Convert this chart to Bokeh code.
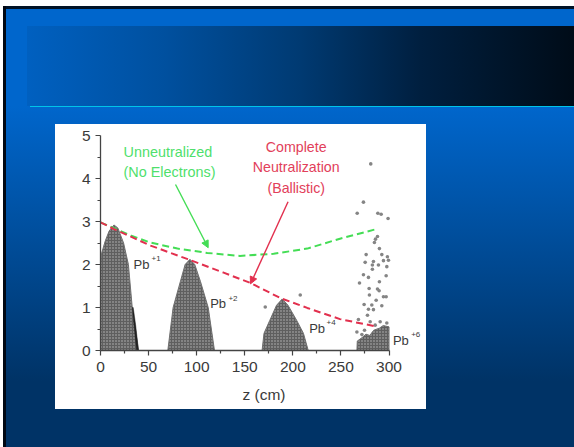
from bokeh.plotting import figure
from bokeh.models import Label, Arrow, NormalHead, FixedTicker
from bokeh.embed import file_html
from bokeh.resources import INLINE

# ---- data ----
title_lines = ["Plasma Electrons Neutralize Ion", "Beam Space Charge"]

green_z = [0, 13.5, 32, 52, 80, 111, 145, 180, 215, 249, 288]
green_r = [2.98, 2.85, 2.67, 2.51, 2.37, 2.27, 2.20, 2.25, 2.37, 2.60, 2.83]
red_z = [0, 13.5, 52, 90, 128, 156, 187, 215, 249, 284]
red_r = [2.98, 2.83, 2.44, 2.13, 1.81, 1.57, 1.22, 0.99, 0.73, 0.57]

pb1_z = [0, 0, 1, 5, 9, 14, 18, 24, 29, 33, 39.5]
pb1_r = [0, 2.0, 2.25, 2.55, 2.78, 2.92, 2.85, 2.5, 2.0, 1.0, 0]
pb1_edge_z = [33, 34, 36.5, 39.5, 37.5]
pb1_edge_r = [1.0, 1.0, 0.6, 0, 0]
pb2_z = [70, 75.5, 83, 88, 93, 98, 104, 112, 118.5]
pb2_r = [0, 1.0, 1.6, 2.0, 2.12, 2.0, 1.6, 1.0, 0]
pb4_z = [168, 170, 176, 183, 189, 195, 204, 211, 216]
pb4_r = [0, 0.4, 0.7, 1.05, 1.2, 1.05, 0.7, 0.4, 0]
pb6_z = [266.6, 267, 272, 276, 280, 284, 290, 294, 300, 300]
pb6_r = [0, 0.22, 0.30, 0.38, 0.35, 0.47, 0.52, 0.58, 0.55, 0]

stray_z = [281, 273.4, 266.9, 288.4, 291.8, 299, 288, 285.9, 284.8, 290, 276.2, 292.5, 298.3, 299.4,
           275.2, 283.8, 282.7, 289, 294.2, 297.7, 282.7, 273.4, 278.6, 297, 269.3, 290, 279.3, 288,
           289.7, 279.6, 294.2, 297, 286.6, 274.1, 282.1, 278.6, 283.8, 292.5, 277.6, 268.2, 280.4,
           290.8, 297.7, 285.6, 266.6, 271.8, 274.5, 207.7, 171.3]
stray_r = [4.34, 3.45, 3.19, 3.19, 3.17, 3.07, 2.65, 2.59, 2.51, 2.37, 2.23, 2.23, 2.18, 2.10,
           2.05, 2.07, 1.99, 1.99, 2.09, 1.95, 1.89, 1.76, 1.70, 1.74, 1.57, 1.60, 1.44, 1.43,
           1.39, 1.29, 1.25, 1.25, 1.17, 1.07, 1.06, 0.96, 0.95, 1.04, 0.82, 0.72, 0.67,
           0.67, 0.64, 0.59, 0.43, 0.37, 0.47, 1.29, 1.01]

x_ticks = [0, 50, 100, 150, 200, 250, 300]
y_ticks = [0, 1, 2, 3, 4, 5]
green_text = ["Unneutralized", "(No Electrons)"]
green_text_r = [4.61, 4.14]
green_text_z = 23.9
red_text = ["Complete", "Neutralization", "(Ballistic)"]
red_text_r = [4.73, 4.26, 3.77]
red_text_z = 203.5
ion_base = ["Pb", "Pb", "Pb", "Pb"]
ion_sup = ["+1", "+2", "+4", "+6"]
ion_z = [34.3, 114, 217, 304]
ion_r = [1.99, 1.10, 0.52, 0.24]
ion_sup_z = [53, 133, 235, 323]
ion_sup_r = [2.13, 1.22, 0.66, 0.38]

# ---- slide ----
WIDTH, HEIGHT = 571, 441
def layer(col, x, y, w, h):
    return f"linear-gradient({col},{col}) {x}px {y}px / {w}px {h}px no-repeat"

slide_bg = ",".join([
    layer("#ffffff", 52, 118, 371, 285),
    layer("#00c4e8", 27, 100, 544, 1),
    "linear-gradient(90deg,#0060c0 0%,#00509f 25%,#003a72 50%,#001f3f 72%,#000c18 100%) 24px 20px / 547px 80px no-repeat",
    layer("#000814", 0, 0, 3, 441),
    layer("#001226", 0, 0, 571, 3),
    "linear-gradient(180deg,#0066cc 0px,#0066cc 100px,#003366 375px,#003366 441px)",
])

p = figure(width=WIDTH, height=HEIGHT, x_range=(0, 340), y_range=(0, 5),
           output_backend="svg", toolbar_location=None,
           min_border_left=97, min_border_right=147, min_border_top=129, min_border_bottom=97,
           border_fill_color=None, background_fill_color=None, outline_line_color=None,
           styles={"position": "absolute", "left": "3px", "top": "6px", "background": slide_bg})
p.grid.visible = False

for ax, ticks in ((p.xaxis[0], x_ticks), (p.yaxis[0], y_ticks)):
    ax.ticker = FixedTicker(ticks=ticks, minor_ticks=[t + (ticks[1] - ticks[0]) / 2 for t in ticks[:-1]])
    ax.axis_line_color = "#444444"
    ax.axis_line_width = 1.3
    ax.major_tick_line_color = "#444444"
    ax.minor_tick_line_color = "#444444"
    ax.major_tick_line_width = 1.2
    ax.minor_tick_line_width = 1.2
    ax.major_tick_in = 0
    ax.major_tick_out = 5
    ax.minor_tick_in = 0
    ax.minor_tick_out = 3
    ax.major_label_text_font = "Liberation Sans"
    ax.major_label_text_font_size = "15.5px"
    ax.major_label_text_color = "#3a3a3a"
    ax.major_label_standoff = 5
p.xaxis[0].bounds = (0, 300)
p.xaxis[0].major_label_standoff = 6

p.xaxis[0].axis_label = "z (cm)"
p.xaxis[0].axis_label_text_font = "Liberation Sans"
p.xaxis[0].axis_label_text_font_style = "normal"
p.xaxis[0].axis_label_text_font_size = "15.5px"
p.xaxis[0].axis_label_text_color = "#3a3a3a"
p.xaxis[0].axis_label_standoff = 11

# bunches: envelopes with a stippled fill
for z, r in ((pb1_z, pb1_r), (pb2_z, pb2_r), (pb4_z, pb4_r), (pb6_z, pb6_r)):
    p.patch(z, r, fill_color="#5f5f5f", line_color="#707070", line_width=1,
            hatch_pattern="dot", hatch_color="#e4e4e4", hatch_alpha=0.7, hatch_scale=3, hatch_weight=1)
p.patch(pb1_edge_z, pb1_edge_r, fill_color="#222222", line_color="#222222", line_width=0.5)
p.scatter(stray_z, stray_r, size=3.6, fill_color="#858585", line_color=None)

p.line(green_z, green_r, line_color="#44dd55", line_width=2, line_dash="7 4")
p.line(red_z, red_r, line_color="#e2304e", line_width=2, line_dash="7 4")

p.add_layout(Arrow(end=NormalHead(size=7, fill_color="#44dd55", line_color="#44dd55"),
                   x_start=78, y_start=3.86, x_end=112, y_end=2.39,
                   line_color="#44dd55", line_width=1.4))
p.add_layout(Arrow(end=NormalHead(size=7, fill_color="#e2304e", line_color="#e2304e"),
                   x_start=195, y_start=3.46, x_end=156, y_end=1.55,
                   line_color="#e2304e", line_width=1.4))

def lab(x, y, text, size, color, font="Liberation Sans", align="left", **kw):
    p.add_layout(Label(x=x, y=y, text=text, text_font=font, text_font_size=f"{size}px",
                       text_color=color, text_align=align, text_baseline=kw.pop("baseline", "middle"),
                       level="overlay", **kw))

for t, r in zip(green_text, green_text_r):
    lab(green_text_z, r, t, 14.4, "#4fdf6c")
for t, r in zip(red_text, red_text_r):
    lab(red_text_z, r, t, 14.2, "#e2405a", align="center")
for t, z, r in zip(ion_base, ion_z, ion_r):
    lab(z, r, t, 13, "#3a3a3a")
for t, z, r in zip(ion_sup, ion_sup_z, ion_sup_r):
    lab(z, r, t, 8, "#3a3a3a")

# rotated y-axis title (screen units count from the frame's lower left corner)
lab(-28, 97.5, "r (cm)", 15.5, "#3a3a3a", align="center", baseline="alphabetic",
    angle=1.5708, x_units="screen", y_units="screen")

# slide title with its drop shadow
for t, y in zip(title_lines, (292.5, 250.5)):
    lab(-71, y - 2, t, 33, "#1a1a1a", font="Liberation Serif", baseline="alphabetic", x_units="screen", y_units="screen")
    lab(-73, y, t, 33, "#cccccc", font="Liberation Serif", baseline="alphabetic", x_units="screen", y_units="screen")

open("out.html", "w").write(file_html(p, INLINE))
